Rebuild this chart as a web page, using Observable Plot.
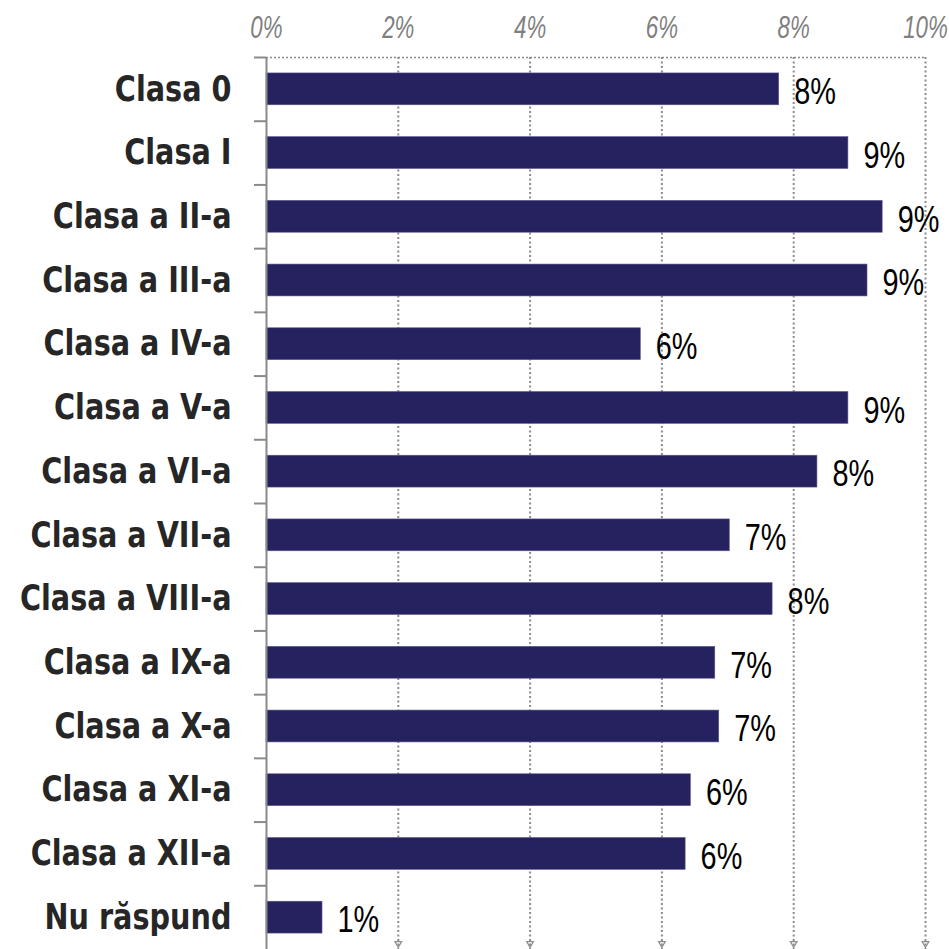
<!DOCTYPE html>
<html>
<head>
<meta charset="utf-8">
<script src="https://cdn.jsdelivr.net/npm/d3@7"></script>
<script src="https://cdn.jsdelivr.net/npm/@observablehq/plot@0.6"></script>
<style>
  html, body { margin: 0; padding: 0; background: #ffffff; }
  #chart { width: 949px; height: 949px; overflow: hidden; }
</style>
</head>
<body>
<div id="chart"></div>
<script>
const categories = [
  "Clasa 0", "Clasa I", "Clasa a II-a", "Clasa a III-a", "Clasa a IV-a",
  "Clasa a V-a", "Clasa a VI-a", "Clasa a VII-a", "Clasa a VIII-a",
  "Clasa a IX-a", "Clasa a X-a", "Clasa a XI-a", "Clasa a XII-a", "Nu răspund"
];
const values = [7.78, 8.83, 9.35, 9.12, 5.68, 8.83, 8.36, 7.03, 7.68, 6.81, 6.87, 6.44, 6.36, 0.85];
const xTicks = [0, 2, 4, 6, 8, 10];
const gridTicks = [2, 4, 6, 8, 10];

const data = categories.map((c, i) => ({cat: c, value: values[i], label: Math.round(values[i]) + "%"}));

const W = 949, H = 949, MT = 57, MB = 0, ML = 266, MR = 24;
const bw = (H - MT - MB) / categories.length;
const grey = "#8c8c8c";
const valFont = "'Liberation Sans', Arial, sans-serif";
const catFont = "'DejaVu Sans', 'Liberation Sans', sans-serif";

const chart = Plot.plot({
  width: W,
  height: H,
  marginTop: MT,
  marginBottom: MB,
  marginLeft: ML,
  marginRight: MR,
  style: {background: "#ffffff", overflow: "visible"},
  x: {domain: [0, 10]},
  y: {domain: categories, paddingInner: 0.5, paddingOuter: 0.25, round: false},
  marks: [
    Plot.ruleX(gridTicks, {stroke: grey, strokeWidth: 2, strokeDasharray: "2,2.5"}),
    Plot.dot(gridTicks, {x: d => d, frameAnchor: "bottom", symbol: "triangle", rotate: 180, r: 2.5,
                         dy: -6, stroke: grey, strokeWidth: 1.2, fill: "none"}),
    Plot.ruleY([categories[0]], {dy: -bw / 2, stroke: grey, strokeWidth: 1.5, strokeDasharray: "2,2"}),
    Plot.barX(data, {x: "value", y: "cat", fill: "#26215f", stroke: "#5c5890", strokeWidth: 0.6}),
    Plot.ruleX([0], {stroke: "#8a8a8a", strokeWidth: 2}),
    Plot.axisY({text: null, tickSize: 12, dy: -bw / 2, stroke: "#8a8a8a", strokeWidth: 2, label: null}),
    Plot.axisY({className: "cats", tickSize: 0, tickPadding: 35, fontSize: 35, fontWeight: "bold",
                fontFamily: catFont, fill: "#262626", label: null}),
    Plot.axisX({className: "xt", anchor: "top", ticks: xTicks, tickFormat: d => d + "%", tickSize: 0, tickPadding: 20,
                fontSize: 31, fontStyle: "italic", fontFamily: valFont, fill: "#7f7f7f", label: null}),
    Plot.text(data, {className: "vals", x: "value", y: "cat", text: "label", dx: 15, dy: 3, textAnchor: "start",
                     fontSize: 37, fontFamily: valFont, fill: "#000000"})
  ]
});

// condense glyphs horizontally (reference text is narrow / vertically stretched)
function squeeze(sel, k) {
  d3.select(chart).selectAll(sel).each(function () {
    const t = this.getAttribute("transform") || "";
    this.setAttribute("transform", t + ` scale(${k},1)`);
  });
}
squeeze(".cats text", 0.82);
squeeze(".xt text", 0.72);
squeeze(".vals text", 0.78);

document.getElementById("chart").appendChild(chart);
</script>
</body>
</html>
